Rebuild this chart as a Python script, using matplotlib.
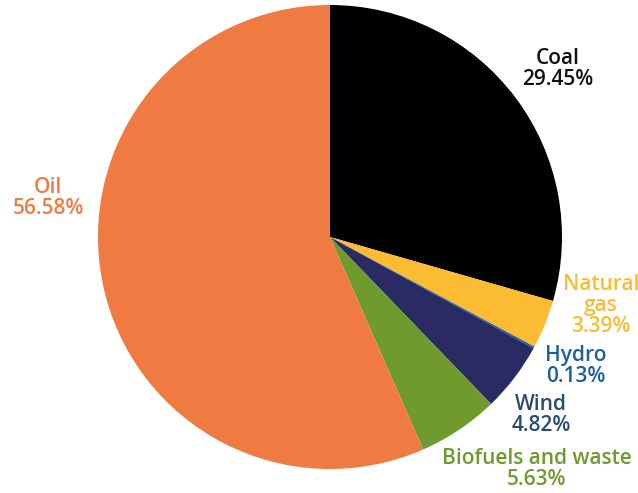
import matplotlib
matplotlib.use("Agg")
import matplotlib.pyplot as plt

categories = ["Coal", "Natural gas", "Hydro", "Wind", "Biofuels and waste", "Oil"]
values = [29.45, 3.39, 0.13, 4.82, 5.63, 56.58]
label_texts = ["Coal\n29.45%", "Natural\ngas\n3.39%", "Hydro\n0.13%", "Wind\n4.82%",
               "Biofuels and waste\n5.63%", "Oil\n56.58%"]

slice_colors = ["#000000", "#FBBC33", "#1B5FA3", "#2A2B62", "#6F9A2E", "#EF7B42"]
text_colors = ["#111111", "#FBBC33", "#1B5FA3", "#2B4A6F", "#6F9A2E", "#EF7B42"]
# label centre positions in pixels (x, y from top)
label_pos = [(558, 69), (601, 306), (576, 366), (541, 415), (537, 469), (48, 198)]

W, H = 638, 493
fig = plt.figure(figsize=(W / 100, H / 100), dpi=100)
ax = fig.add_axes([0, 0, 1, 1])

ax.pie(values, colors=slice_colors, startangle=90, counterclock=False,
       center=(330, H - 237), radius=232, frame=True,
       wedgeprops=dict(linewidth=0))
ax.set_xlim(0, W)
ax.set_ylim(0, H)
ax.set_aspect("equal")
ax.axis("off")

for txt, col, (px, py) in zip(label_texts, text_colors, label_pos):
    ax.text(px, H - py, txt, color=col, ha="center", va="center",
            fontsize=15, fontweight="semibold", family="Open Sans", linespacing=1.0)

fig.savefig("out.png", dpi=100)
